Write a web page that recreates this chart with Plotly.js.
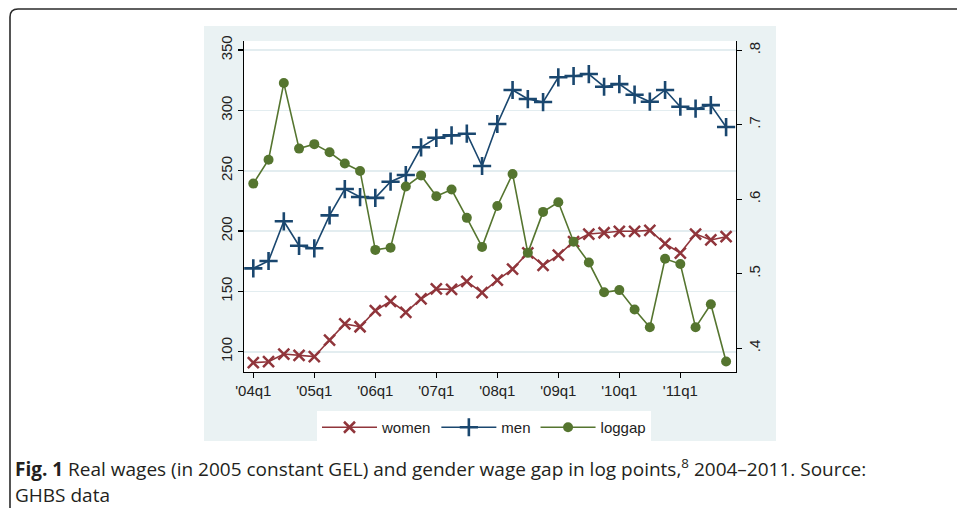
<!DOCTYPE html>
<html>
<head>
<meta charset="utf-8">
<script src="https://cdn.plot.ly/plotly-3.0.1.min.js"></script>
<style>
html,body{margin:0;padding:0;background:#fff;}
#chart{width:957px;height:508px;}
</style>
</head>
<body>
<div id="chart"></div>
<script>
// ---- data ----
var quarters = ["2004q1","2004q2","2004q3","2004q4","2005q1","2005q2","2005q3","2005q4",
                "2006q1","2006q2","2006q3","2006q4","2007q1","2007q2","2007q3","2007q4",
                "2008q1","2008q2","2008q3","2008q4","2009q1","2009q2","2009q3","2009q4",
                "2010q1","2010q2","2010q3","2010q4","2011q1","2011q2","2011q3","2011q4"];
var women = [90.9, 91.7, 98.1, 97.0, 95.9, 109.7, 123.0, 120.7, 134.0, 141.8, 132.7, 143.7,
             152.0, 151.7, 158.3, 148.9, 159.4, 168.5, 182.0, 171.6, 180.1, 191.2, 197.5, 198.6,
             199.8, 199.8, 200.6, 189.5, 181.8, 197.5, 192.6, 195.3];
var men = [169.1, 175.2, 208.1, 187.8, 185.7, 213.0, 234.8, 228.2, 227.5, 240.9, 246.4, 269.4,
           277.3, 279.3, 280.7, 253.9, 288.7, 316.9, 309.4, 306.9, 327.4, 328.5, 330.1, 319.6,
           321.8, 313.0, 307.2, 316.9, 303.0, 301.4, 304.4, 286.2];
var loggap = [0.621, 0.653, 0.756, 0.668, 0.674, 0.663, 0.648, 0.638, 0.532, 0.535, 0.617, 0.632,
              0.604, 0.613, 0.575, 0.536, 0.591, 0.634, 0.528, 0.583, 0.596, 0.543, 0.515, 0.475,
              0.478, 0.452, 0.428, 0.520, 0.513, 0.428, 0.459, 0.382];
var xTickQuarters = ["2004q1","2005q1","2006q1","2007q1","2008q1","2009q1","2010q1","2011q1"];
var xTickLabels = ["'04q1","'05q1","'06q1","'07q1","'08q1","'09q1","'10q1","'11q1"];
var leftTicks = [100, 150, 200, 250, 300, 350];
var rightTicks = [0.4, 0.5, 0.6, 0.7, 0.8];
var rightTickLabels = [".4", ".5", ".6", ".7", ".8"];
var seriesNames = ["women", "men", "loggap"];
var captionBold = "Fig. 1";
var captionText = " Real wages (in 2005 constant GEL) and gender wage gap in log points,<sup>8</sup> 2004\u20132011. Source:";
var captionText2 = "GHBS data";

// ---- layout geometry (pixels) ----
var W = 957, H = 508;
var PL = 244, PR = 736, PT = 41, PB = 372;
function px(x){ return (x - PL) / (PR - PL); }
function py(y){ return (PB - y) / (PB - PT); }

var xIdx = quarters.map(function(q, i){ return i; });
var xTickVals = xTickQuarters.map(function(q){ return quarters.indexOf(q); });

var tickFont = {family: "Liberation Sans, Arial, sans-serif", size: 15, color: "#222"};

var traces = [
  {x: xIdx, y: women, name: seriesNames[0], type: "scatter", mode: "lines+markers",
   line: {color: "#90353B", width: 1.6},
   marker: {symbol: "x-thin", size: 11, line: {color: "#90353B", width: 2.5}, color: "#90353B"}},
  {x: xIdx, y: men, name: seriesNames[1], type: "scatter", mode: "lines+markers",
   line: {color: "#1A476F", width: 1.6},
   marker: {symbol: "cross-thin", size: 13, line: {color: "#1A476F", width: 2.6}, color: "#1A476F"}},
  {x: xIdx, y: loggap, name: seriesNames[2], type: "scatter", mode: "lines+markers", yaxis: "y2",
   line: {color: "#55752F", width: 1.6},
   marker: {symbol: "circle", size: 10, color: "#55752F"}}
];

var layout = {
  width: W, height: H,
  margin: {l: PL, r: W - PR, t: PT, b: H - PB, pad: 0},
  paper_bgcolor: "#ffffff",
  plot_bgcolor: "#ffffff",
  showlegend: true,
  xaxis: {
    range: [-0.61, 31.65], tickmode: "array", tickvals: xTickVals, ticktext: xTickLabels,
    showgrid: false, zeroline: false, showline: true, linecolor: "#000", linewidth: 1.2,
    ticks: "outside", ticklen: 5, tickcolor: "#000", tickwidth: 1.2, tickfont: tickFont,
    fixedrange: true
  },
  yaxis: {
    range: [83.2, 357.5], tickmode: "array", tickvals: leftTicks,
    tickangle: -90, showgrid: true, gridcolor: "#E3EDF0", gridwidth: 1.6,
    zeroline: false, showline: true, linecolor: "#000", linewidth: 1.2,
    ticks: "outside", ticklen: 5, tickcolor: "#000", tickwidth: 1.2, tickfont: tickFont,
    fixedrange: true
  },
  yaxis2: {
    range: [0.368, 0.8125], overlaying: "y", side: "right", tickmode: "array",
    tickvals: rightTicks, ticktext: rightTickLabels, tickangle: -90,
    showgrid: false, zeroline: false, showline: true, linecolor: "#000", linewidth: 1.2,
    ticks: "outside", ticklen: 5, tickcolor: "#000", tickwidth: 1.2, tickfont: tickFont,
    fixedrange: true
  },
  legend: {
    orientation: "h", x: px(484), xanchor: "center", y: py(411), yanchor: "top",
    bgcolor: "#ffffff", borderwidth: 0, itemwidth: 55,
    font: {family: "Liberation Sans, Arial, sans-serif", size: 15, color: "#222"},
    itemclick: false, itemdoubleclick: false
  },
  shapes: [
    {type: "rect", xref: "paper", yref: "paper", layer: "below",
     x0: px(204), x1: px(776), y0: py(441), y1: py(26),
     fillcolor: "#EAF2F3", line: {width: 0}},
    {type: "rect", xref: "paper", yref: "paper", layer: "below",
     x0: 0, x1: 1, y0: 0, y1: 1, fillcolor: "#ffffff", line: {width: 0}},
    {type: "path", xref: "paper", yref: "paper", layer: "above",
     path: "M " + px(960) + " " + py(9) + " L " + px(18) + " " + py(9) +
           " Q " + px(10) + " " + py(9) + " " + px(10) + " " + py(17) +
           " L " + px(10) + " " + py(512),
     line: {color: "#2b2b2b", width: 1.6}}
  ],
  annotations: [
    {xref: "paper", yref: "paper", x: px(13), y: py(468), xanchor: "left", yanchor: "middle",
     showarrow: false, align: "left",
     text: "<b>" + captionBold + "</b>" + captionText,
     font: {family: "Open Sans, sans-serif", size: 19, color: "#231f20"}},
    {xref: "paper", yref: "paper", x: px(13), y: py(495), xanchor: "left", yanchor: "middle",
     showarrow: false, align: "left", text: captionText2,
     font: {family: "Open Sans, sans-serif", size: 19, color: "#231f20"}}
  ]
};

Plotly.newPlot("chart", traces, layout, {displayModeBar: false, staticPlot: true});
</script>
</body>
</html>
